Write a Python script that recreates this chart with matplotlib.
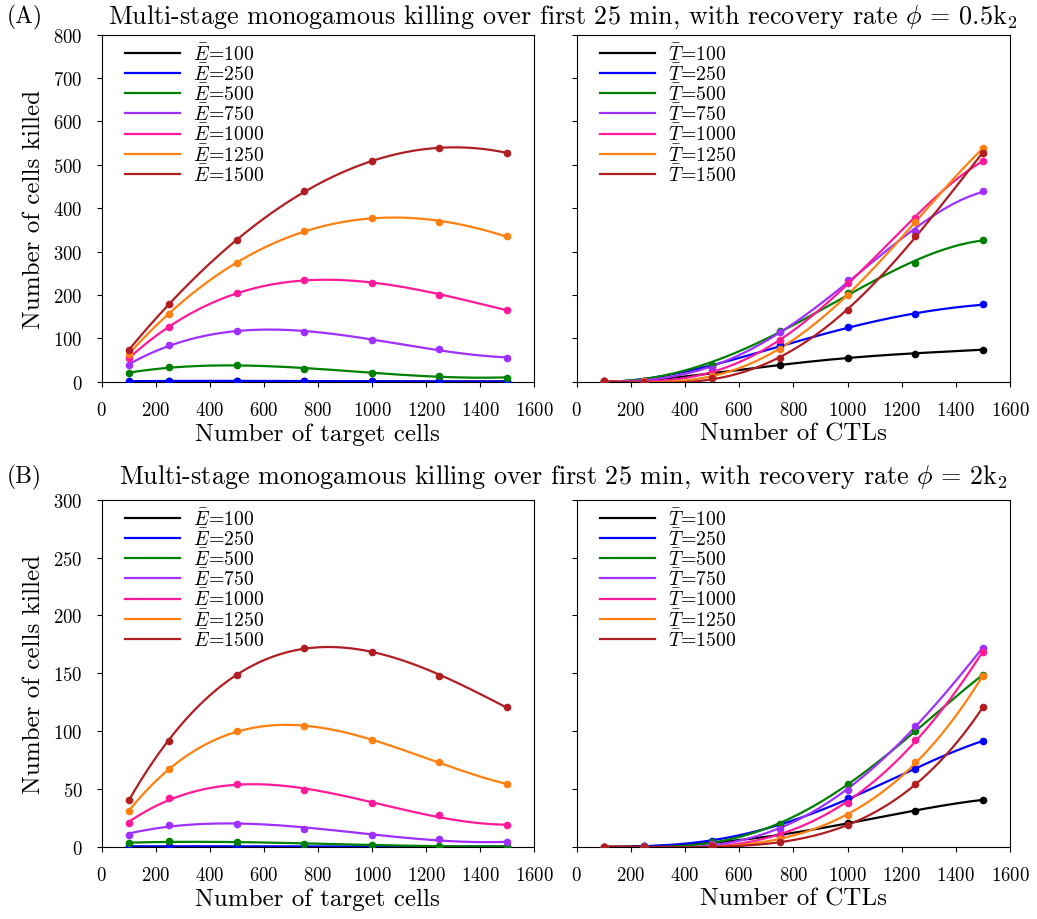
import numpy as np
import matplotlib
matplotlib.use("Agg")
import matplotlib.pyplot as plt

plt.rcParams['font.family'] = 'serif'
plt.rcParams['font.serif'] = ['cmr10', 'DejaVu Serif']
plt.rcParams['mathtext.fontset'] = 'cm'
plt.rcParams['axes.formatter.use_mathtext'] = True

# cell numbers (both targets T and CTLs E)
levels = [100, 250, 500, 750, 1000, 1250, 1500]
colors = ['#000000', '#0000ff', '#008000', '#a030ff', '#ff1a99', '#ff8010', '#b01e22']

# killed[i][j]: CTLs E = levels[i], targets T = levels[j]
killed_A = np.array([
    [0.3, 0.5, 0.5, 0.5, 0.5, 0.5, 0.5],
    [1.0, 2.0, 2.0, 1.0, 1.0, 0.5, 0.3],
    [19, 35, 38, 29, 20, 14, 9],
    [39, 84, 118, 115, 96, 75, 55],
    [55, 125, 204, 235, 228, 201, 165],
    [65, 156, 274, 348, 378, 368, 335],
    [74, 178, 327, 439, 509, 538, 528],
])
killed_B = np.array([
    [0.0, 0.0, 0.0, 0.0, 0.0, 0.0, 0.0],
    [0.3, 0.5, 0.3, 0.2, 0.1, 0.1, 0.1],
    [3.0, 5.0, 3.7, 2.6, 1.4, 0.9, 0.3],
    [10.4, 19, 20, 15.6, 10.4, 6.6, 3.7],
    [20.5, 41.8, 54, 49, 38, 27, 18.4],
    [31, 67, 99.7, 104.6, 92, 73, 54],
    [40.6, 91.6, 148.7, 172, 168.6, 147.8, 120.5],
])

titles = [r'Multi-stage monogamous killing over first 25 min, with recovery rate $\phi$ = 0.5k$_2$',
          r'Multi-stage monogamous killing over first 25 min, with recovery rate $\phi$ = 2k$_2$']
panel_tags = ['(A)', '(B)']
ylims = [(0, 800), (0, 300)]
yticks = [np.arange(0, 801, 100), np.arange(0, 301, 50)]
xticks = np.arange(0, 1601, 200)


def fit_curve(x, y, powers, xs):
    """Least-squares smooth trend through the measured points."""
    s = (x - x[0]) / 1000.0
    ss = (xs - x[0]) / 1000.0
    A = np.column_stack([s ** p for p in powers])
    coef, *_ = np.linalg.lstsq(A, y, rcond=None)
    return np.column_stack([ss ** p for p in powers]) @ coef


W, H = 1037, 920
fig = plt.figure(figsize=(W / 100, H / 100), dpi=100)

rows_px = [(35.7, 382.7), (500.7, 847.7)]
cols_px = [(101.7, 534.0), (576.7, 1010.0)]
title_y = [17, 477]

x = np.array(levels, dtype=float)
xs = np.linspace(x[0], x[-1], 300)

for r, data in enumerate([killed_A, killed_B]):
    top, bot = rows_px[r]
    for c in range(2):
        l, rr = cols_px[c]
        ax = fig.add_axes([l / W, 1 - bot / H, (rr - l) / W, (bot - top) / H])
        for k in range(7):
            if c == 0:
                y = data[k, :]
                lab = r'$\bar{E}\!=\!$' + f'{levels[k]}'
                ys = fit_curve(x, y, (0, 1, 2, 3), xs)
            else:
                y = data[:, k]
                lab = r'$\bar{T}\!=\!$' + f'{levels[k]}'
                ys = fit_curve(x, y, (2, 3, 4), xs)
            ax.plot(xs, ys, color=colors[k], lw=1.6, label=lab)
            ax.plot(x, y, 'o', color=colors[k], ms=4.5, zorder=3)
        ax.set_xlim(0, 1600)
        ax.set_ylim(*ylims[r])
        ax.set_xticks(xticks)
        ax.set_yticks(yticks[r])
        ax.tick_params(direction='out', length=3.8, pad=10, labelsize=13.5, top=False, right=False)
        if c == 1:
            ax.set_yticklabels([])
        else:
            ax.set_ylabel('Number of cells killed', fontsize=18, va='center')
            ax.yaxis.set_label_coords(-0.157, 0.5)
        ax.set_xlabel('Number of target cells' if c == 0 else 'Number of CTLs', fontsize=18, va='top')
        ax.xaxis.set_label_coords(0.5, -0.118)
        ax.legend(loc='upper left', frameon=False, fontsize=14.2, handlelength=2.8,
                  labelspacing=-0.05, borderaxespad=0.0, handletextpad=0.65,
                  bbox_to_anchor=(0.035, 1.0))
    fig.text(563 / W, 1 - title_y[r] / H, titles[r], ha='center', va='center', fontsize=18.8)
    fig.text(7 / W, 1 - title_y[r] / H, panel_tags[r], ha='left', va='center', fontsize=17)

fig.savefig('out.png', dpi=100)
